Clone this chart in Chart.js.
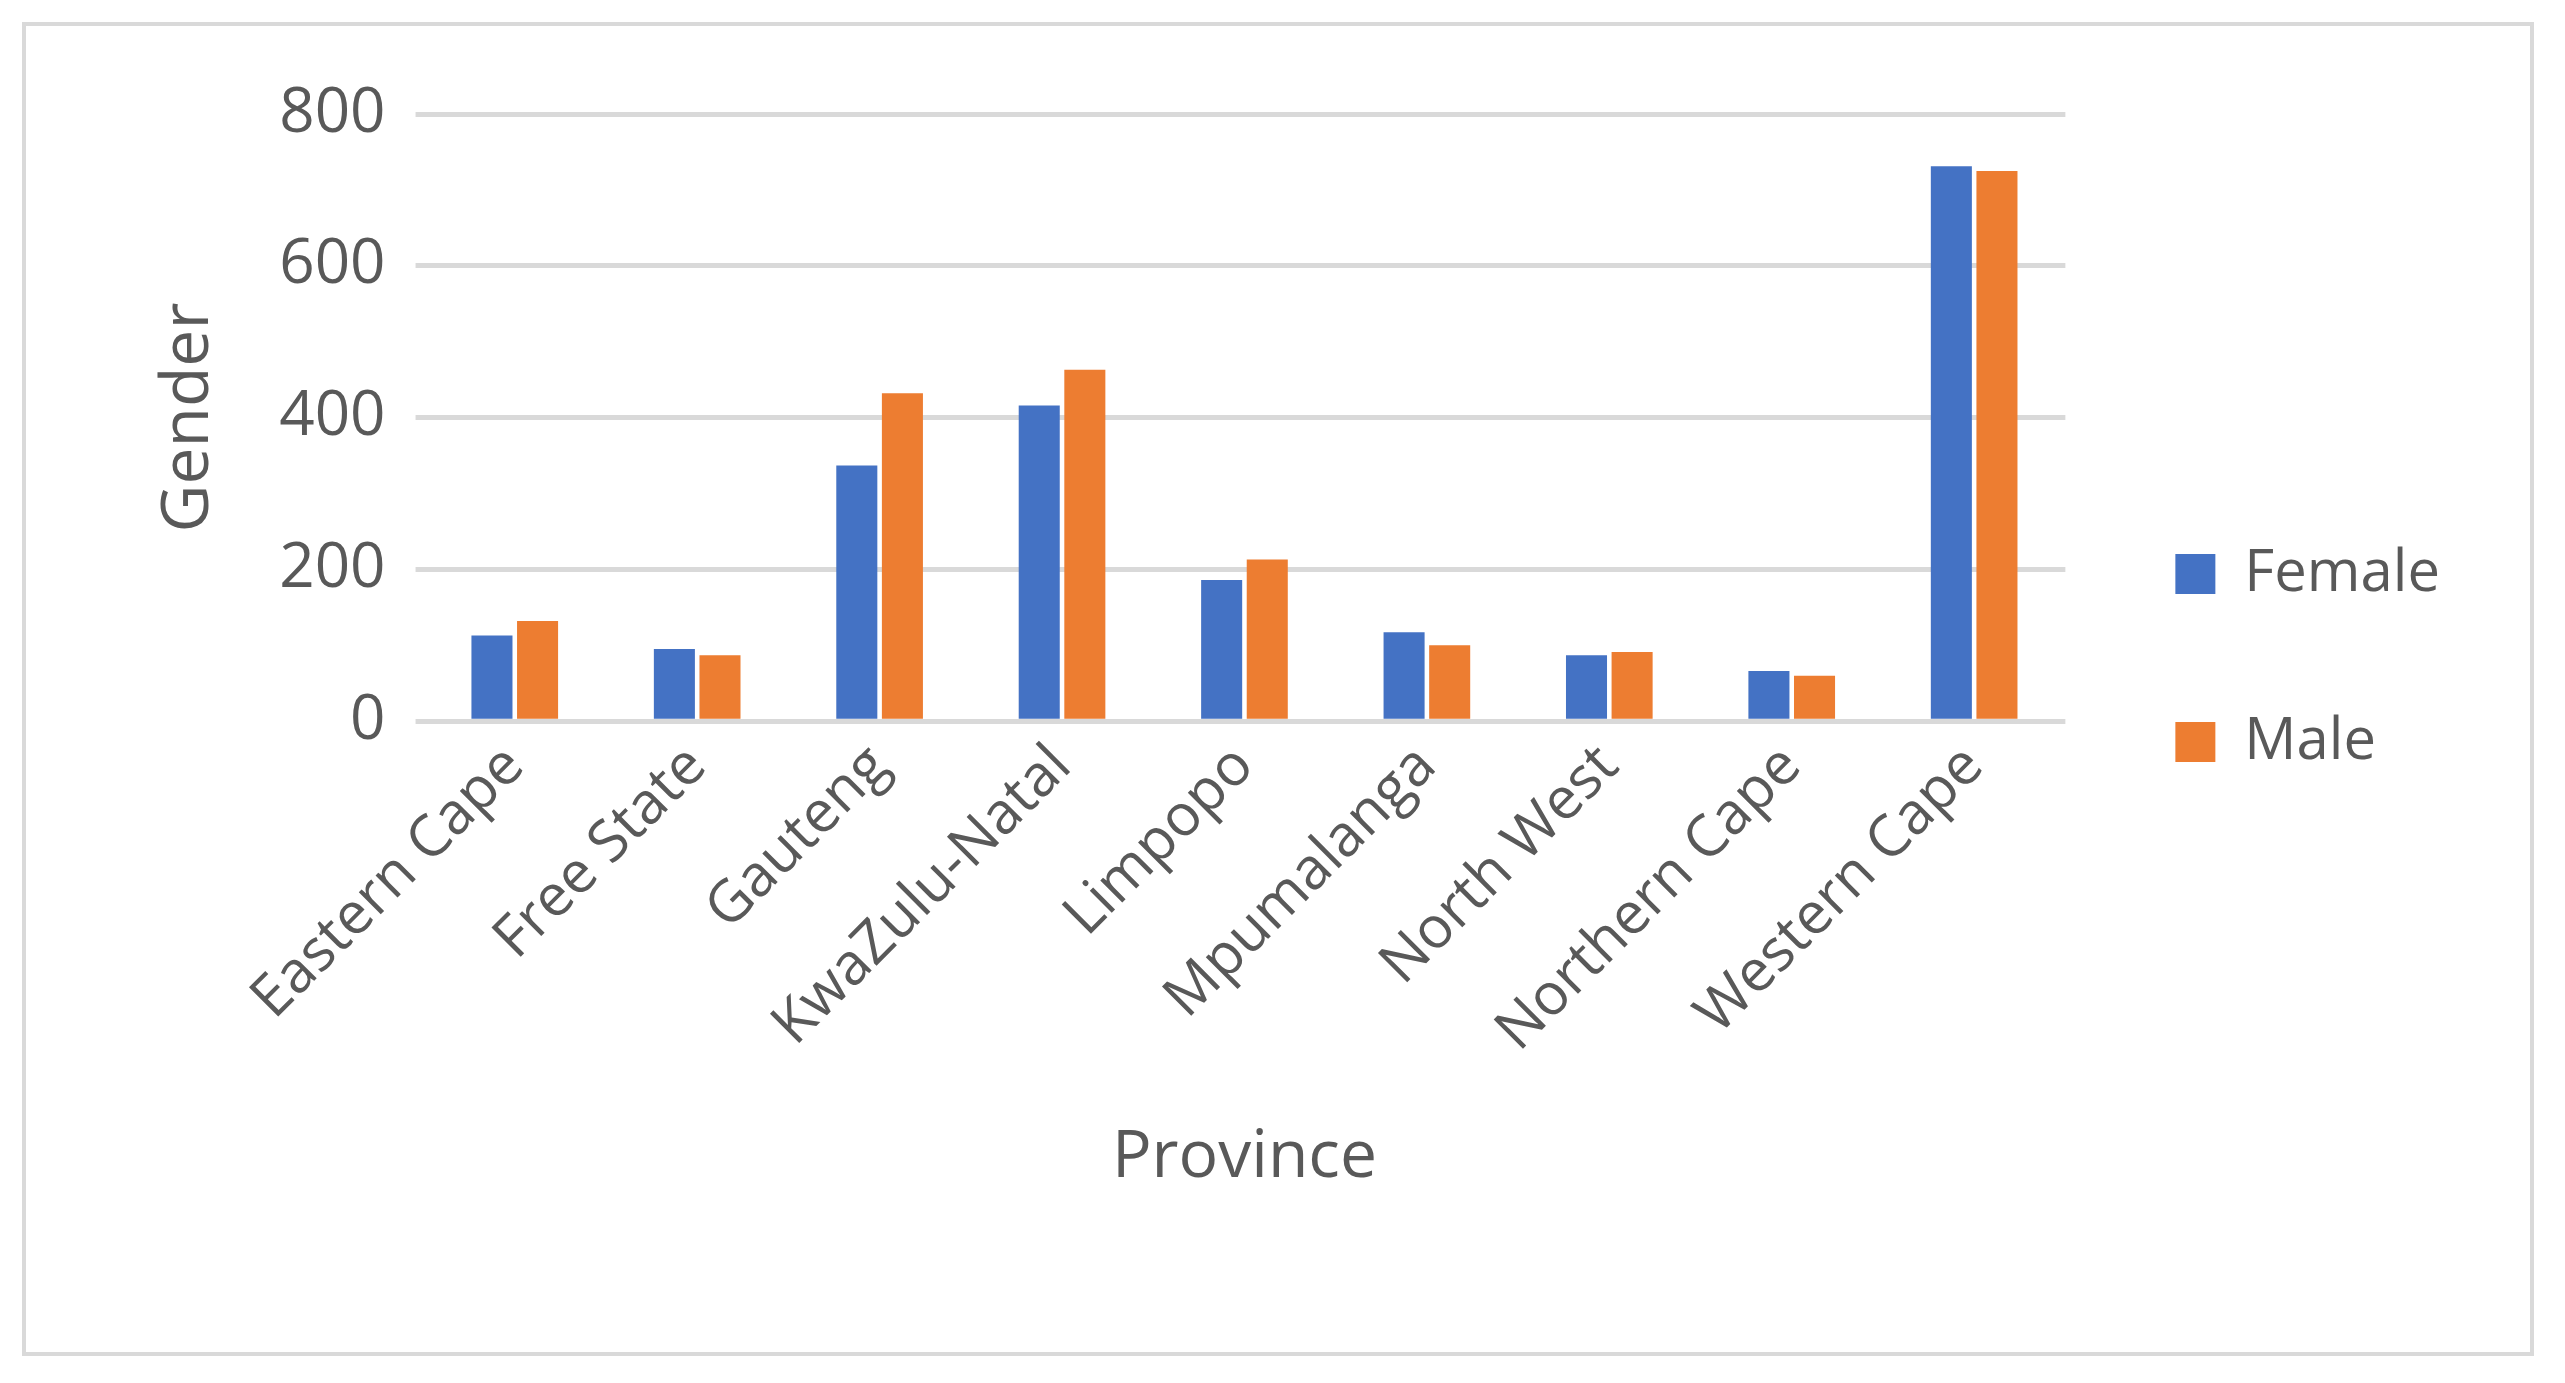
<!DOCTYPE html>
<html><head><meta charset="utf-8">
<script src="https://cdn.jsdelivr.net/npm/chart.js@4"></script>
<style>
html,body{margin:0;padding:0;background:#fff;}
#frame{position:absolute;left:22px;top:22px;width:2512px;height:1334px;border:4px solid #d9d9d9;box-sizing:border-box;}
#wrap{position:absolute;left:26px;top:26px;width:2504px;height:1326px;}
</style></head><body>
<div id="frame"></div>
<div id="wrap"><canvas id="c"></canvas></div>
<script>
const categories=["Eastern Cape","Free State","Gauteng","KwaZulu-Natal","Limpopo","Mpumalanga","North West","Northern Cape","Western Cape"];
const female=[113,95,337,416,186,117,87,66,731];
const male=[132,87,432,463,213,100,91,60,725];
const yTicks=[0,100,200,300,400,500,600,700,800];
const F="'Open Sans', 'Liberation Sans', sans-serif";
Chart.defaults.font.family=F;
Chart.defaults.color="#595959";
new Chart(document.getElementById('c'),{
type:'bar',
data:{labels:categories,datasets:[
{label:'Female',data:female,backgroundColor:'#4472c4',categoryPercentage:0.5,barPercentage:0.9},
{label:'Male',data:male,backgroundColor:'#ed7d31',categoryPercentage:0.5,barPercentage:0.9}]},
options:{responsive:true,maintainAspectRatio:false,animation:false,
layout:{padding:{left:120,right:80,top:88,bottom:150}},
plugins:{legend:{position:'right',labels:{font:{size:58},boxWidth:40,boxHeight:40,padding:110,color:'#595959'}},tooltip:{enabled:false}},
scales:{
x:{grid:{display:false},border:{display:false},ticks:{font:{size:58},maxRotation:45,minRotation:45,color:'#595959'},
 title:{display:true,text:'Province',font:{size:66},color:'#595959',padding:{top:50}}},
y:{min:0,max:800,afterBuildTicks:s=>{s.ticks=yTicks.map(v=>({value:v}));},
 grid:{color:'#d9d9d9',lineWidth:5},border:{display:false},ticks:{font:{size:62},padding:30,color:'#595959'},
 title:{display:true,text:'Gender',font:{size:66},color:'#595959',padding:{bottom:20}}}
}}});
</script></body></html>
